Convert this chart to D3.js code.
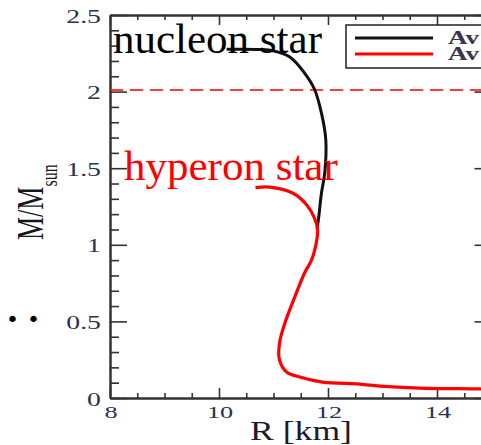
<!DOCTYPE html>
<html>
<head>
<meta charset="utf-8">
<script src="https://cdn.jsdelivr.net/npm/d3@7/dist/d3.min.js"></script>
<style>
  html, body { margin: 0; padding: 0; background: #fff; overflow: hidden; }
  svg { display: block; }
  svg text { font-family: "Liberation Serif", "Times New Roman", "DejaVu Serif", serif; }
  svg text.bullet { font-family: "DejaVu Sans", sans-serif; }
</style>
</head>
<body>
<script>
// ---------- data ----------
const nucleonR = [10.14, 10.75, 10.99, 11.30, 11.57, 11.75, 11.88, 11.96, 11.94, 11.88, 11.83, 11.80];
const nucleonM = [2.276, 2.275, 2.267, 2.226, 2.121, 2.017, 1.860, 1.684, 1.469, 1.338, 1.181, 1.105];

const hyperonR = [10.67, 10.93, 11.35, 11.61, 11.75, 11.81, 11.77, 11.70, 11.57, 11.39, 11.21, 11.11, 11.11, 11.24, 11.48, 11.90, 12.58, 12.95, 13.68, 14.79, 15.30];
const hyperonM = [1.373, 1.377, 1.338, 1.260, 1.175, 1.097, 0.986, 0.901, 0.816, 0.659, 0.490, 0.359, 0.248, 0.170, 0.137, 0.104, 0.091, 0.078, 0.065, 0.059, 0.055];

const observedMass = 2.01;

const massTicks = [0, 0.5, 1, 1.5, 2, 2.5];
const massLabels = ["0", "0.5", "1", "1.5", "2", "2.5"];
const radiusTicks = [8, 10, 12, 14];
const radiusLabels = ["8", "10", "12", "14"];

const seriesNames = ["Av18", "Av18+Y"];
const seriesColors = ["#111", "#ff0000"];
const starLabels = ["nucleon star", "hyperon star"];

// ---------- layout ----------
const W = 481, H = 445;
const svg = d3.select("body").append("svg").attr("width", W).attr("height", H);
svg.append("rect").attr("width", W).attr("height", H).attr("fill", "#fff");

const x = d3.scaleLinear().domain([8, 15]).range([110, 491.5]);
const y = d3.scaleLinear().domain([0, 2.5]).range([398, 15]);

const axisColor = "#333";
const labelColor = "#2a2f50";

// minor ticks
const minorY = d3.range(0, 2.5001, 0.1).map(v => +v.toFixed(2)).filter(v => !massTicks.some(t => Math.abs(t - v) < 1e-6));
const minorX = d3.range(8, 15.001, 0.5).filter(v => !radiusTicks.includes(v));

function styleAxis(g) {
  g.selectAll("path").attr("stroke", axisColor).attr("stroke-width", 2);
  g.selectAll("line").attr("stroke", axisColor).attr("stroke-width", 1.6);
  g.selectAll("text").remove();
}

// left axis
svg.append("g").attr("transform", `translate(${x(8)},0)`)
  .call(d3.axisLeft(y).tickValues(massTicks).tickSizeInner(-17).tickSizeOuter(0).tickFormat(""))
  .call(styleAxis);
svg.append("g").attr("transform", `translate(${x(8)},0)`)
  .call(d3.axisLeft(y).tickValues(minorY).tickSizeInner(-9).tickSizeOuter(0).tickFormat(""))
  .call(styleAxis);
// right axis
svg.append("g").attr("transform", `translate(${x(15)},0)`)
  .call(d3.axisRight(y).tickValues(massTicks).tickSizeInner(-17).tickSizeOuter(0).tickFormat(""))
  .call(styleAxis);
svg.append("g").attr("transform", `translate(${x(15)},0)`)
  .call(d3.axisRight(y).tickValues(minorY).tickSizeInner(-9).tickSizeOuter(0).tickFormat(""))
  .call(styleAxis);
// bottom axis
svg.append("g").attr("transform", `translate(0,${y(0)})`)
  .call(d3.axisBottom(x).tickValues(radiusTicks).tickSizeInner(-10).tickSizeOuter(0).tickFormat(""))
  .call(styleAxis);
svg.append("g").attr("transform", `translate(0,${y(0)})`)
  .call(d3.axisBottom(x).tickValues(minorX).tickSizeInner(-5).tickSizeOuter(0).tickFormat(""))
  .call(styleAxis);
// top axis
svg.append("g").attr("transform", `translate(0,${y(2.5)})`)
  .call(d3.axisTop(x).tickValues(radiusTicks).tickSizeInner(-10).tickSizeOuter(0).tickFormat(""))
  .call(styleAxis);
svg.append("g").attr("transform", `translate(0,${y(2.5)})`)
  .call(d3.axisTop(x).tickValues(minorX).tickSizeInner(-5).tickSizeOuter(0).tickFormat(""))
  .call(styleAxis);

// tick labels (horizontally stretched serif)
massTicks.forEach((t, i) => {
  svg.append("text")
    .attr("transform", `translate(${x(8) - 9},${y(t) + 7.5}) scale(1.5,1)`)
    .attr("text-anchor", "end")
    .attr("font-size", 18.5)
    .attr("fill", labelColor)
    .text(massLabels[i]);
});
radiusTicks.forEach((t, i) => {
  svg.append("text")
    .attr("transform", `translate(${x(t) + 1},${y(0) + 19.5}) scale(1.5,1)`)
    .attr("text-anchor", "middle")
    .attr("font-size", 17.5)
    .attr("fill", labelColor)
    .text(radiusLabels[i]);
});

// axis titles
svg.append("text")
  .attr("transform", `translate(301,440) scale(1.32,1)`)
  .attr("text-anchor", "middle")
  .attr("font-size", 27)
  .attr("fill", "#1a1a2a")
  .text("R [km]");

const yt = svg.append("text")
  .attr("transform", `translate(43,240) scale(1.45,1) rotate(-90)`)
  .attr("font-size", 26)
  .attr("fill", "#151520");
yt.append("tspan").text("M/M");
yt.append("tspan").attr("font-size", 16).attr("dy", 9.5).text("sun");

// observational 2 Msun line
svg.append("line")
  .attr("x1", x(8)).attr("x2", x(15))
  .attr("y1", y(observedMass)).attr("y2", y(observedMass))
  .attr("stroke", "#ff0000").attr("stroke-width", 1.5)
  .attr("stroke-dasharray", "13,7");

// curves
const line = d3.line().x(d => x(d[0])).y(d => y(d[1])).curve(d3.curveCatmullRom.alpha(0.5));
const nucleon = nucleonR.map((r, i) => [r, nucleonM[i]]);
const hyperon = hyperonR.map((r, i) => [r, hyperonM[i]]);

svg.append("path").attr("d", line(nucleon))
  .attr("fill", "none").attr("stroke", seriesColors[0]).attr("stroke-width", 3);
svg.append("path").attr("d", line(hyperon))
  .attr("fill", "none").attr("stroke", seriesColors[1]).attr("stroke-width", 3.2);

// legend
const lg = svg.append("g");
lg.append("rect").attr("x", 346).attr("y", 25).attr("width", 200).attr("height", 43)
  .attr("fill", "#fff").attr("stroke", "#222").attr("stroke-width", 1.5);
seriesNames.forEach((n, i) => {
  const ly = 38 + i * 16;
  lg.append("line").attr("x1", 355).attr("x2", 433).attr("y1", ly).attr("y2", ly)
    .attr("stroke", seriesColors[i]).attr("stroke-width", 3);
  lg.append("text")
    .attr("transform", `translate(448,${ly + 6}) scale(1.5,1)`)
    .attr("font-size", 18).attr("font-weight", "bold")
    .attr("fill", "#3a3550")
    .text(n);
});

// big annotation labels
svg.append("text").attr("x", 113).attr("y", 53)
  .attr("font-size", 43).attr("fill", "#000")
  .text(starLabels[0]);
svg.append("text").attr("x", 124).attr("y", 180)
  .attr("font-size", 43).attr("fill", "#ff0000")
  .text(starLabels[1]);

// slide bullets at left edge
svg.append("text").attr("class", "bullet").attr("x", 6).attr("y", 327)
  .attr("font-size", 22).attr("fill", "#000")
  .attr("letter-spacing", 8)
  .text("••");
</script>
</body>
</html>
